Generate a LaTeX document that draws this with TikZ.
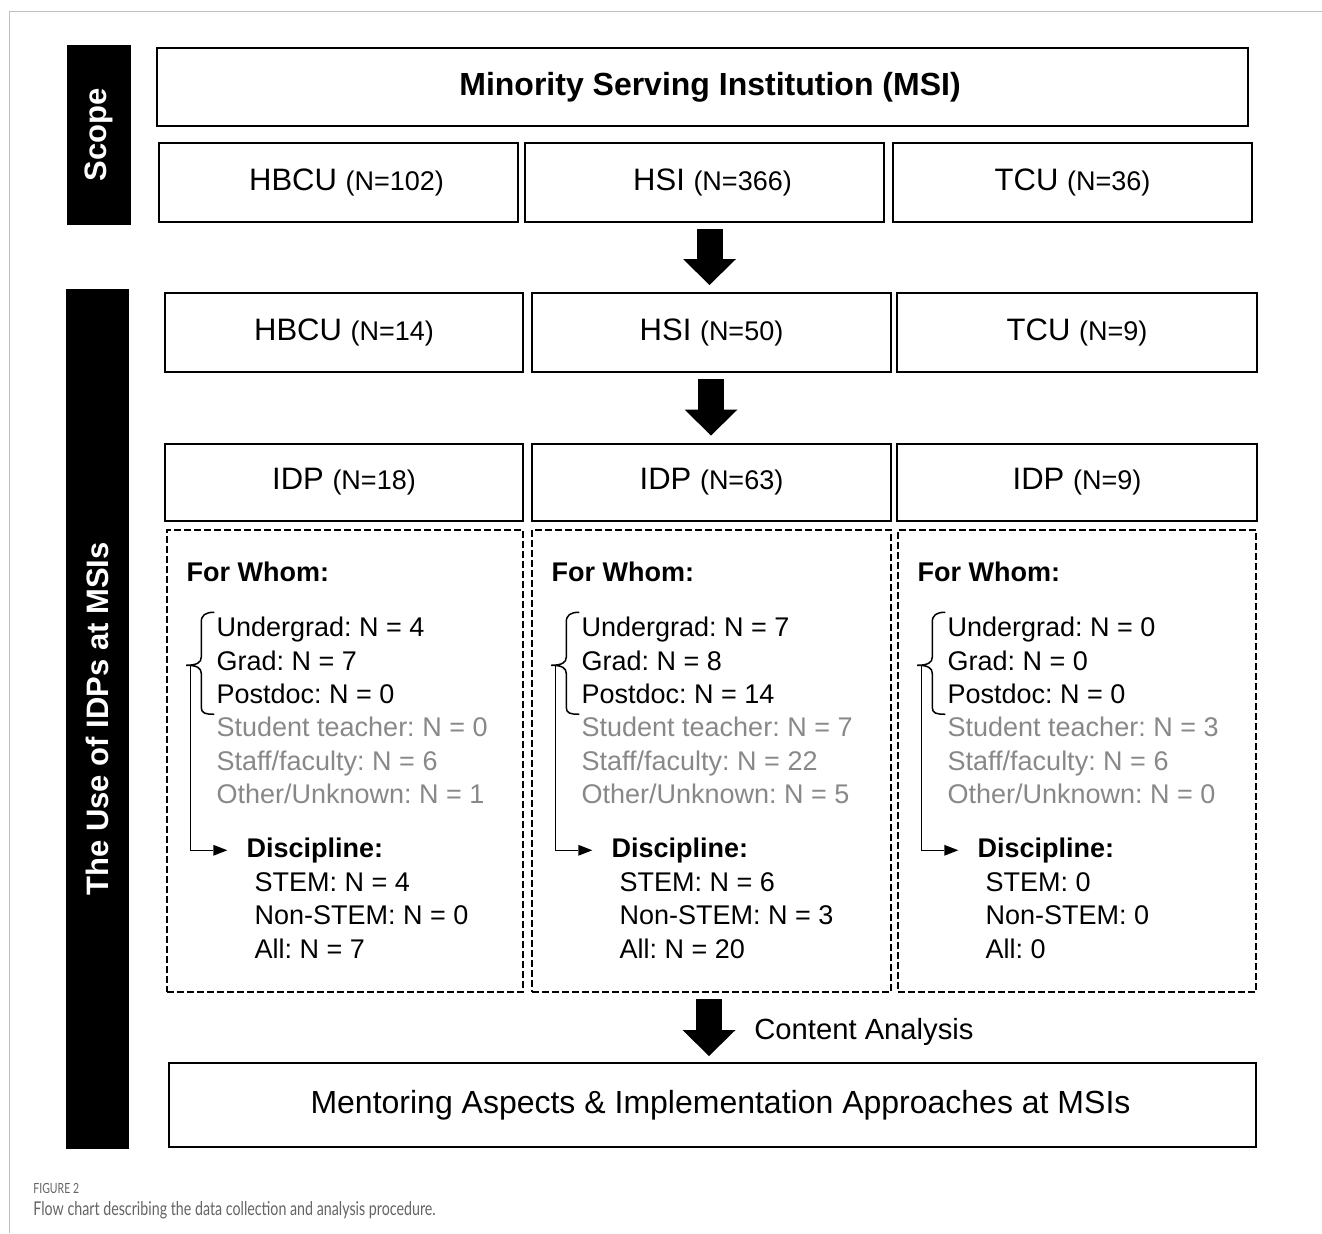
\documentclass[tikz,border=0pt]{standalone}
\usepackage{fontspec}
\setmainfont{Liberation Sans}
\newfontfamily\capfont[FakeStretch=0.75]{Lato}
\usetikzlibrary{arrows.meta,calc}
\definecolor{lgray}{RGB}{136,136,136}
\definecolor{framegray}{RGB}{190,190,190}
\definecolor{capgray}{RGB}{100,100,100}
\newcommand\nsm[1]{{\fontsize{13.5}{16}\selectfont #1}}
\frenchspacing
\begin{document}
\begin{tikzpicture}[x=0.5pt,y=-0.5pt,
  box/.style={draw, line width=1pt, inner sep=0pt, minimum height=39.5pt, minimum width=179.5pt, font=\fontsize{15.5}{18}\selectfont},
  dbox/.style={draw, dash pattern=on 3.5pt off 1.5pt, line width=0.75pt, inner sep=0pt, minimum height=231pt},
  bar/.style={fill=black, inner sep=0pt, rotate=90, text=white, font=\bfseries\fontsize{15.5}{18}\selectfont},
  txt/.style={anchor=base west, inner sep=0pt, font=\fontsize{13.5}{16}\selectfont},
  btxt/.style={txt, font=\bfseries\fontsize{13.5}{16}\selectfont},
  gtxt/.style={txt, text=lgray},
  big/.style={line width=13pt, -{Triangle[width=26.5pt,length=13pt,line width=0pt]}, shorten <=3pt},
  brc/.style={line width=0.75pt},
  conn/.style={line width=0.75pt, -{Triangle[width=5.5pt,length=7pt,line width=0pt]}},
]
\useasboundingbox (0,0) rectangle (1322,1233);
\draw[framegray, line width=0.5pt] (1322,11) -- (9,11) -- (9,1233);

% side bars
\node[bar, minimum width=90pt, minimum height=32pt] (scope) at (99,135) {Scope};
\node[bar, minimum width=430pt, minimum height=31.5pt] (use) at (97.5,719) {The Use of IDPs at MSIs};

% boxes
\node[box, minimum width=545.5pt, minimum height=39pt, font=\bfseries\fontsize{16}{19}\selectfont] (msi) at (702.5,87) {\hspace*{7.5pt}Minority Serving Institution (MSI)};
\node[box] (r1a) at (338.5,182.5) {\hspace*{8pt}HBCU \nsm{(N=102)}};
\node[box] (r1b) at (704.5,182.5) {\hspace*{8pt}HSI \nsm{(N=366)}};
\node[box] (r1c) at (1072.5,182.5) {TCU \nsm{(N=36)}};

\node[box, minimum width=179pt] (r2a) at (344,332.5) {HBCU \nsm{(N=14)}};
\node[box] (r2b) at (711.5,332.5) {HSI \nsm{(N=50)}};
\node[box, minimum width=180pt] (r2c) at (1077,332.5) {TCU \nsm{(N=9)}};

\node[box, minimum width=179pt, minimum height=38.5pt] (r3a) at (344,482) {IDP \nsm{(N=18)}};
\node[box, minimum height=38.5pt] (r3b) at (711.5,482) {IDP \nsm{(N=63)}};
\node[box, minimum width=180pt, minimum height=38.5pt] (r3c) at (1077,482) {IDP \nsm{(N=9)}};

\node[dbox, minimum width=178pt] (d1) at (345,761) {};
\node[dbox, minimum width=179.5pt] (d2) at (711.5,761) {};
\node[dbox, minimum width=179pt] (d3) at (1077,761) {};

\node[box, minimum width=543.5pt, minimum height=42pt, font=\fontsize{16}{19}\selectfont] (fin) at (712.5,1105) {\hspace*{8pt}Mentoring Aspects \& Implementation Approaches at MSIs};

% block arrows
\coordinate (ax1) at (709.5,0);
\coordinate (ax2) at (711,0);
\coordinate (ax3) at (709,0);
\draw[big, shorten >=3.5pt] (ax1 |- r1b.south) -- (ax1 |- r2b.north);
\draw[big, shorten >=3.5pt] (ax2 |- r2b.south) -- (ax2 |- r3b.north);
\draw[big, shorten >=3pt] (ax3 |- d2.south) -- (ax3 |- fin.north);
\node[anchor=base west, inner sep=0pt, font=\fontsize{14.6}{17}\selectfont] (ca) at (754,1039) {Content Analysis};

% column contents
\foreach \n/\a/\b/\c/\d/\e/\f/\g/\h/\i in {
  1/4/7/0/0/6/1/{N = 4}/{N = 0}/{N = 7},
  2/7/8/14/7/22/5/{N = 6}/{N = 3}/{N = 20},
  3/0/0/0/3/6/0/0/0/0}{
  \node[btxt] (fw\n) at ($(d\n.north west)+(20,52)$) {For Whom:};
  \node[txt] (ug\n) at ($(d\n.north west)+(50,107)$) {Undergrad: N = \a};
  \node[txt] (gr\n) at ($(d\n.north west)+(50,141)$) {Grad: N = \b};
  \node[txt] (pd\n) at ($(d\n.north west)+(50,174)$) {Postdoc: N = \c};
  \node[gtxt] (st\n) at ($(d\n.north west)+(50,207)$) {Student teacher: N = \d};
  \node[gtxt] (sf\n) at ($(d\n.north west)+(50,241)$) {Staff/faculty: N = \e};
  \node[gtxt] (ot\n) at ($(d\n.north west)+(50,274)$) {Other/Unknown: N = \f};
  \node[btxt] (dc\n) at ($(d\n.north west)+(80,328)$) {Discipline:};
  \node[txt] (sm\n) at ($(d\n.north west)+(88,362)$) {STEM: \g};
  \node[txt] (ns\n) at ($(d\n.north west)+(88,395)$) {Non-STEM: \h};
  \node[txt] (al\n) at ($(d\n.north west)+(88,429)$) {All: \i};
  \begin{scope}[shift={(d\n.north west)}]
    \draw[brc] (48,83) .. controls (39,83) and (35,86) .. (35,93) -- (35,128)
      .. controls (35,133) and (31,136) .. (20,136)
      .. controls (31,136) and (35,139) .. (35,144) -- (35,178)
      .. controls (35,184) and (39,185) .. (48,185);
    \coordinate (bt\n) at (24,136);
  \end{scope}
  \draw[conn] (bt\n) |- ([xshift=-9.5pt]dc\n.west);
}

% caption
\node[anchor=base west, inner sep=0pt, text=capgray, font=\capfont\fontsize{7}{8}\selectfont] (cap1) at (33,1193) {FIGURE 2};
\node[anchor=base west, inner sep=0pt, text=capgray, font=\capfont\fontsize{9.5}{11}\selectfont] (cap2) at (33,1215) {Flow chart describing the data collection and analysis procedure.};
\end{tikzpicture}
\end{document}
